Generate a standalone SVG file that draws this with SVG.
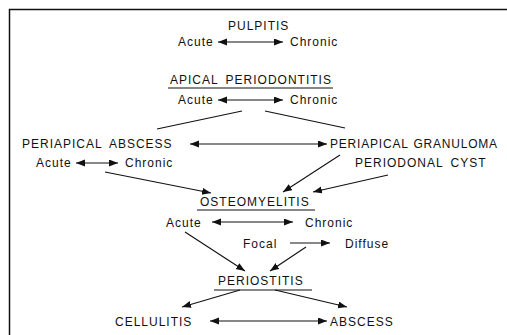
<svg xmlns="http://www.w3.org/2000/svg" width="507" height="335" viewBox="0 0 507 335">
<style>
text{font-family:"Liberation Sans",Arial,sans-serif;font-size:12px;letter-spacing:1px;word-spacing:3px;fill:#111}
.c line{stroke:#111;stroke-width:1.1;fill:none}
.a{marker-end:url(#ah)}
.d{marker-start:url(#ah);marker-end:url(#ah)}
.u{stroke:#111;stroke-width:1.2}
</style>
<defs>
<marker id="ah" markerUnits="userSpaceOnUse" markerWidth="10" markerHeight="8" refX="9" refY="3.5" orient="auto-start-reverse"><path d="M0,0 L9,3.5 L0,7 Z" fill="#111"/></marker>
</defs>
<rect width="507" height="335" fill="#fff"/>
<path d="M9.5,335 V9.5 H507" fill="none" stroke="#111" stroke-width="1.5"/>
<g id="pulpitis"><text x="228" y="30">PULPITIS</text><text x="178" y="46">Acute</text><text x="290" y="46">Chronic</text></g>
<g id="apical"><text x="170" y="84">APICAL PERIODONTITIS</text><line class="u" x1="168" y1="88" x2="333" y2="88"/><text x="178" y="104">Acute</text><text x="290" y="104">Chronic</text></g>
<g id="abscess"><text x="22" y="148">PERIAPICAL ABSCESS</text><text x="36" y="167">Acute</text><text x="125" y="167">Chronic</text></g>
<g id="granuloma"><text x="330" y="148" style="letter-spacing:0.8px;word-spacing:1px">PERIAPICAL GRANULOMA</text></g>
<g id="cyst"><text x="355" y="167">PERIODONAL CYST</text></g>
<g id="osteo"><text x="200" y="206">OSTEOMYELITIS</text><line class="u" x1="197" y1="210" x2="315" y2="210"/><text x="166" y="227">Acute</text><text x="305" y="227">Chronic</text><text x="243" y="248">Focal</text><text x="345" y="248">Diffuse</text></g>
<g id="periostitis"><text x="218" y="285">PERIOSTITIS</text><line class="u" x1="214" y1="290" x2="312" y2="290"/></g>
<g id="cellulitis"><text x="115" y="326">CELLULITIS</text></g>
<g id="abscess2"><text x="330" y="326">ABSCESS</text></g>
<g id="connectors" class="c">
<line class="d" x1="218" y1="42" x2="283" y2="42"/>
<line class="d" x1="218" y1="100" x2="283" y2="100"/>
<line x1="242" y1="111" x2="157" y2="129"/>
<line x1="265" y1="111" x2="345" y2="128"/>
<line class="d" x1="190" y1="144" x2="327" y2="144"/>
<line class="d" x1="76" y1="163" x2="118" y2="163"/>
<line class="a" x1="105" y1="172" x2="211" y2="193"/>
<line class="a" x1="340" y1="155" x2="283" y2="192"/>
<line class="a" x1="388" y1="175" x2="313" y2="192"/>
<line class="d" x1="212" y1="222" x2="293" y2="222"/>
<line class="a" x1="290" y1="243" x2="330" y2="243"/>
<line class="a" x1="185" y1="232" x2="245" y2="271"/>
<line class="a" x1="306" y1="247" x2="270" y2="271"/>
<line class="a" x1="240" y1="290" x2="182" y2="307"/>
<line class="a" x1="275" y1="290" x2="347" y2="307"/>
<line class="d" x1="210" y1="321" x2="327" y2="321"/>
</g>
</svg>
